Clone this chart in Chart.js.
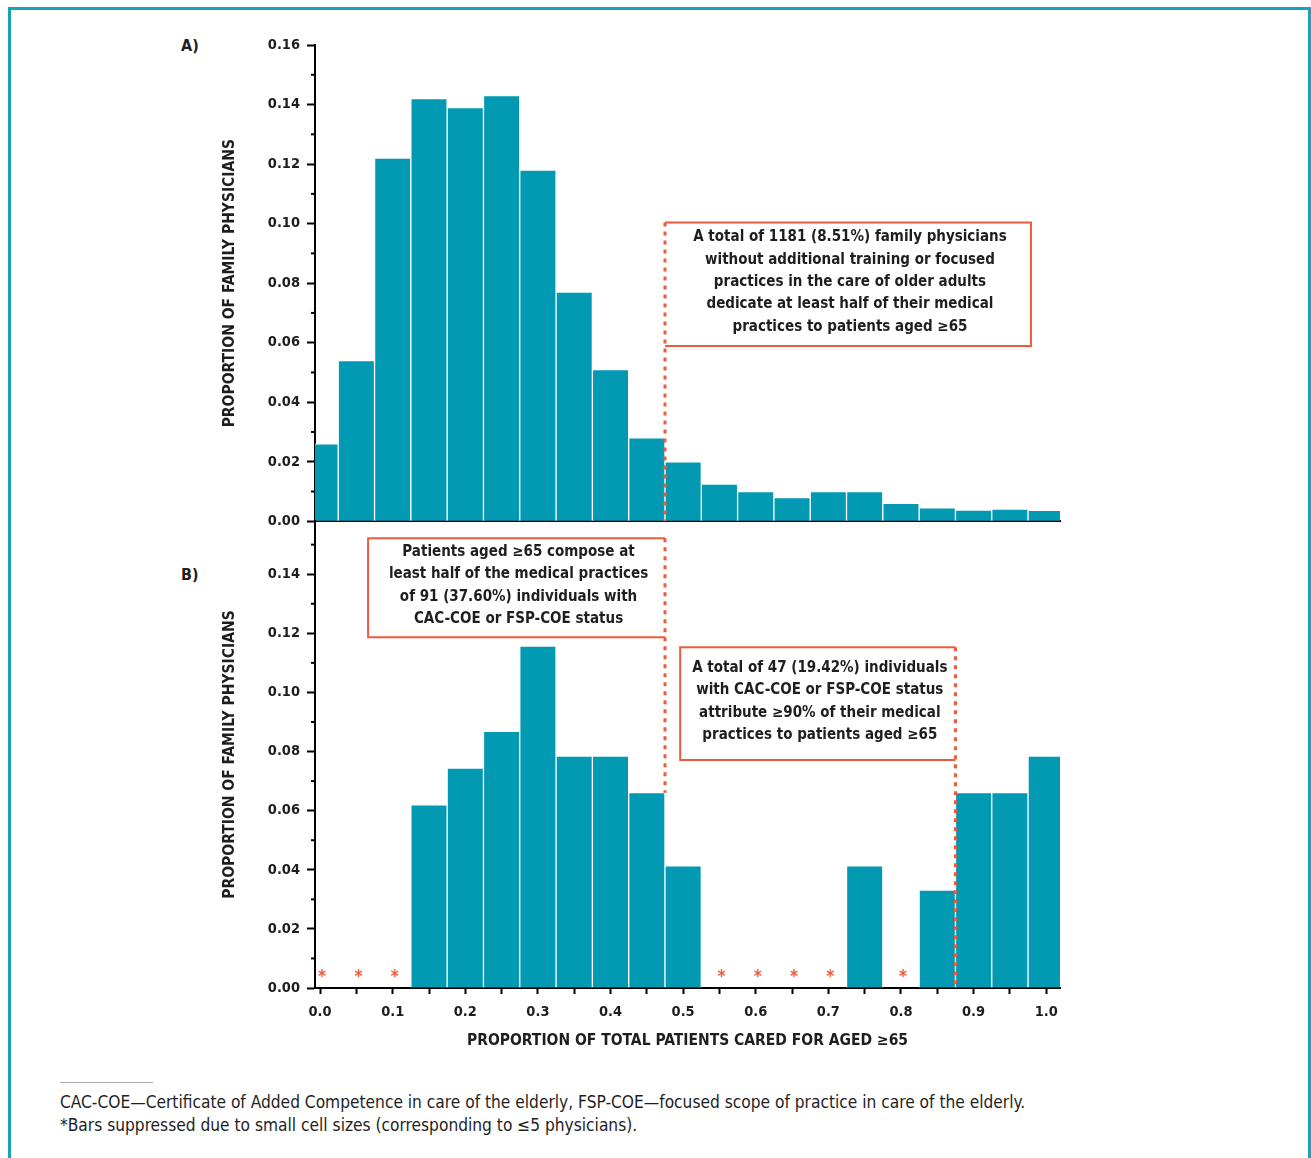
<!DOCTYPE html>
<html>
<head>
<meta charset="utf-8">
<script src="https://cdn.jsdelivr.net/npm/chart.js@4.4.1/dist/chart.umd.min.js"></script>
<style>
  body { margin: 0; background: #fff; width: 1311px; height: 1158px; position: relative; overflow: hidden;
         font-family: 'DejaVu Sans Condensed', 'Liberation Sans Narrow', sans-serif; color: #1e1e1e; }
  .frame { position: absolute; left: 8px; top: 7px; width: 1297px; height: 1200px;
           border: 3px solid #1aa3b8; border-bottom: none; }
  .panel { position: absolute; left: 181px; font-weight: bold; font-size: 16px; }
  .wrap { position: absolute; left: 0; width: 1311px; }
  .rule { position: absolute; left: 60px; top: 1082px; width: 93px; height: 1px; background: #aaa; }
  .foot { position: absolute; left: 60px; top: 1091px; font-size: 17.2px; line-height: 23px; }
</style>
</head>
<body>
<div class="frame"></div>
<div class="panel" style="top:36px">A)</div>
<div class="panel" style="top:565px">B)</div>
<div class="wrap" style="top:0;height:537px"><canvas id="chartA"></canvas></div>
<div class="wrap" style="top:500px;height:560px"><canvas id="chartB"></canvas></div>
<div class="rule"></div>
<div class="foot">CAC-COE—Certificate of Added Competence in care of the elderly, FSP-COE—focused scope of practice in care of the elderly.<br>*Bars suppressed due to small cell sizes (corresponding to ≤5 physicians).</div>

<script>
// Histogram bins (proportion of patients aged 65+)
const binCenters = [0.00, 0.05, 0.10, 0.15, 0.20, 0.25, 0.30, 0.35, 0.40, 0.45, 0.50,
                    0.55, 0.60, 0.65, 0.70, 0.75, 0.80, 0.85, 0.90, 0.95, 1.00];
// A) family physicians without added training / focused practice
const shareA = [0.026, 0.054, 0.122, 0.142, 0.139, 0.143, 0.118, 0.077, 0.051, 0.028, 0.020,
                0.0125, 0.010, 0.008, 0.010, 0.010, 0.006, 0.0045, 0.0038, 0.0041, 0.0037];
// B) CAC-COE or FSP-COE; null = suppressed cell
const shareB = [null, null, null, 0.0620, 0.0744, 0.0868, 0.1157, 0.0785, 0.0785, 0.0661, 0.0413,
                null, null, null, null, 0.0413, null, 0.0331, 0.0661, 0.0661, 0.0785];
const suppressedB = [0.00, 0.05, 0.10, 0.55, 0.60, 0.65, 0.70, 0.80];

const yTicksA = [0, 0.01, 0.02, 0.03, 0.04, 0.05, 0.06, 0.07, 0.08, 0.09, 0.10, 0.11, 0.12, 0.13, 0.14, 0.15, 0.16];
const yTicksB = [0, 0.01, 0.02, 0.03, 0.04, 0.05, 0.06, 0.07, 0.08, 0.09, 0.10, 0.11, 0.12, 0.13, 0.14, 0.15];
const xTicks = [0, 0.05, 0.10, 0.15, 0.20, 0.25, 0.30, 0.35, 0.40, 0.45, 0.50,
                0.55, 0.60, 0.65, 0.70, 0.75, 0.80, 0.85, 0.90, 0.95, 1.00];

const noteA = ['A total of 1181 (8.51%) family physicians', 'without additional training or focused',
               'practices in the care of older adults', 'dedicate at least half of their medical',
               'practices to patients aged ≥65'];
const noteB1 = ['Patients aged ≥65 compose at', 'least half of the medical practices',
                'of 91 (37.60%) individuals with', 'CAC-COE or FSP-COE status'];
const noteB2 = ['A total of 47 (19.42%) individuals', 'with CAC-COE or FSP-COE status',
                'attribute ≥90% of their medical', 'practices to patients aged ≥65'];

const FONT = "'DejaVu Sans Condensed', 'Liberation Sans Narrow', sans-serif";
const BAR = '#0299b2';
const RED = '#ef5a3a';
const INK = '#1e1e1e';

const isMajorY = v => Math.round(v * 100) % 2 === 0;
const isMajorX = v => Math.round(v * 100) % 10 === 0;

// minor ticks, dotted guides, boxed notes and asterisks
const extras = {
  id: 'extras',
  afterDraw(chart, args, opts) {
    const ctx = chart.ctx;
    const xs = chart.scales.x, ys = chart.scales.y;
    ctx.save();
    // short minor ticks on the y axis
    ctx.strokeStyle = '#000';
    ctx.lineWidth = 2;
    ys.ticks.forEach(t => {
      if (isMajorY(t.value)) return;
      const py = ys.getPixelForValue(t.value);
      ctx.beginPath();
      ctx.moveTo(ys.right - 4, py);
      ctx.lineTo(ys.right, py);
      ctx.stroke();
    });
    // dotted guides
    ctx.strokeStyle = RED;
    ctx.lineWidth = 3;
    ctx.setLineDash([4, 5]);
    (opts.guides || []).forEach(g => {
      const px = xs.getPixelForValue(g.x);
      ctx.beginPath();
      ctx.moveTo(px, ys.getPixelForValue(g.from));
      ctx.lineTo(px, ys.getPixelForValue(g.to));
      ctx.stroke();
    });
    ctx.setLineDash([]);
    // note boxes (open on the side that the dotted guide closes)
    (opts.notes || []).forEach(n => {
      const l = xs.getPixelForValue(n.x1), r = xs.getPixelForValue(n.x2);
      const t = ys.getPixelForValue(n.yTop), b = ys.getPixelForValue(n.yBot);
      ctx.strokeStyle = RED;
      ctx.lineWidth = 2;
      ctx.beginPath();
      if (n.open === 'left') {
        ctx.moveTo(l, t); ctx.lineTo(r, t); ctx.lineTo(r, b); ctx.lineTo(l, b);
      } else if (n.open === 'right') {
        ctx.moveTo(r, t); ctx.lineTo(l, t); ctx.lineTo(l, b); ctx.lineTo(r, b);
      } else {
        ctx.rect(l, t, r - l, b - t);
      }
      ctx.stroke();
      ctx.fillStyle = INK;
      ctx.font = 'bold 15px ' + FONT;
      ctx.textAlign = 'center';
      ctx.textBaseline = 'middle';
      const lh = 22.4;
      const cy = (t + b) / 2 - 2 - (n.lines.length - 1) * lh / 2;
      n.lines.forEach((s, i) => ctx.fillText(s, (l + r) / 2 + 2, cy + i * lh));
    });
    // asterisks for suppressed bins
    if (opts.stars) {
      ctx.fillStyle = RED;
      ctx.font = 'bold 17px ' + FONT;
      ctx.textAlign = 'center';
      ctx.textBaseline = 'alphabetic';
      opts.stars.forEach(v => ctx.fillText('*', xs.getPixelForValue(v) + 2, ys.getPixelForValue(0) - 6));
    }
    ctx.restore();
  }
};

function barData(values) {
  return binCenters.map((x, i) => ({ x: x, y: values[i] }));
}

function yScale(ticksList, max) {
  return {
    min: 0,
    max: max,
    afterBuildTicks: s => { s.ticks = ticksList.map(v => ({ value: v })); },
    afterFit: s => { s.width = 95; },
    ticks: {
      autoSkip: false,
      padding: 7,
      color: INK,
      font: { family: FONT, size: 14.5, weight: 'bold' },
      callback: v => isMajorY(v) ? v.toFixed(2) : ''
    },
    grid: {
      drawOnChartArea: false,
      tickLength: 8,
      tickWidth: 2,
      tickColor: c => (c.tick && isMajorY(c.tick.value)) ? '#000' : 'rgba(0,0,0,0)'
    },
    border: { display: true, color: '#000', width: 2 },
    title: {
      display: true,
      text: 'PROPORTION OF FAMILY PHYSICIANS',
      color: INK,
      font: { family: FONT, size: 15.5, weight: 'bold' },
      padding: { top: 1, bottom: 0 }
    }
  };
}

const xRange = { type: 'linear', min: -0.007, max: 1.019, offset: false };

function baseDataset(values) {
  return {
    data: barData(values),
    backgroundColor: BAR,
    borderColor: '#ffffff',
    borderWidth: 1,
    borderSkipped: 'start',
    barPercentage: 1,
    categoryPercentage: 1
  };
}

new Chart(document.getElementById('chartA'), {
  type: 'bar',
  data: { datasets: [baseDataset(shareA)] },
  options: {
    responsive: true,
    maintainAspectRatio: false,
    animation: false,
    layout: { padding: { left: 220, right: 251, top: 45, bottom: 2 } },
    plugins: {
      legend: { display: false },
      tooltip: { enabled: false },
      extras: {
        guides: [{ x: 0.475, from: 0.1004, to: 0 }],
        notes: [{ lines: noteA, x1: 0.475, x2: 0.979, yTop: 0.1004, yBot: 0.0589, open: 'left' }]
      }
    },
    scales: {
      x: Object.assign({}, xRange, {
        afterFit: s => { s.height = 0; },
        ticks: { display: false },
        grid: { display: false, drawTicks: false, offset: false },
        border: { display: true, color: '#000', width: 2 }
      }),
      y: yScale(yTicksA, 0.16)
    }
  },
  plugins: [extras]
});

new Chart(document.getElementById('chartB'), {
  type: 'bar',
  data: { datasets: [baseDataset(shareB)] },
  options: {
    responsive: true,
    maintainAspectRatio: false,
    animation: false,
    layout: { padding: { left: 220, right: 251, top: 21, bottom: 0 } },
    plugins: {
      legend: { display: false },
      tooltip: { enabled: false },
      extras: {
        guides: [{ x: 0.475, from: 0.1522, to: shareB[9] }, { x: 0.875, from: 0.1153, to: 0 }],
        notes: [
          { lines: noteB1, x1: 0.0661, x2: 0.475, yTop: 0.1522, yBot: 0.1187, open: 'right' },
          { lines: noteB2, x1: 0.4959, x2: 0.875, yTop: 0.1153, yBot: 0.0771, open: 'right' }
        ],
        stars: suppressedB
      }
    },
    scales: {
      x: Object.assign({}, xRange, {
        afterBuildTicks: s => { s.ticks = xTicks.map(v => ({ value: v })); },
        afterFit: s => { s.height = 72; },
        ticks: {
          autoSkip: false,
          maxRotation: 0,
          padding: 10,
          color: INK,
          font: { family: FONT, size: 14.5, weight: 'bold' },
          callback: v => isMajorX(v) ? v.toFixed(1) : ''
        },
        grid: { drawOnChartArea: false, offset: false, tickLength: 6, tickWidth: 2, tickColor: '#000' },
        border: { display: true, color: '#000', width: 2 },
        title: {
          display: true,
          text: 'PROPORTION OF TOTAL PATIENTS CARED FOR AGED ≥65',
          color: INK,
          font: { family: FONT, size: 15.5, weight: 'bold' },
          padding: { top: 0, bottom: 10 }
        }
      }),
      y: yScale(yTicksB, 0.158)
    }
  },
  plugins: [extras]
});
</script>
</body>
</html>
